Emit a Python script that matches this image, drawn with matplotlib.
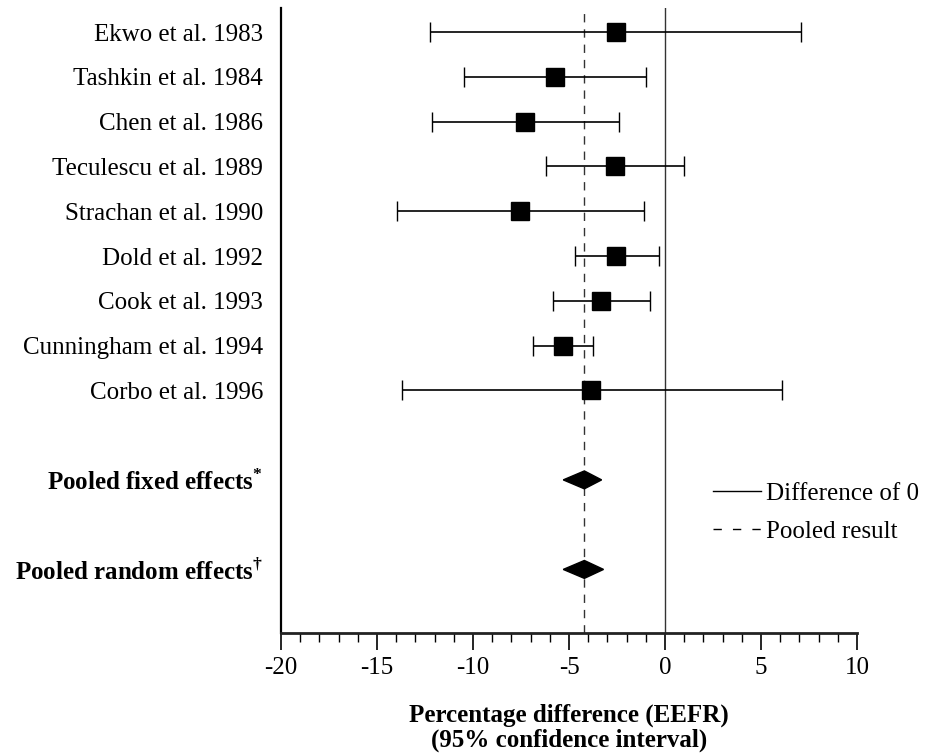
import numpy as np
import matplotlib.pyplot as plt
from matplotlib.lines import Line2D
from matplotlib.patches import Polygon

plt.rcParams['font.family'] = ['Liberation Serif', 'DejaVu Serif']
plt.rcParams['mathtext.fontset'] = 'custom'
plt.rcParams['mathtext.rm'] = 'Liberation Serif'
plt.rcParams['mathtext.bf'] = 'Liberation Serif:bold'
plt.rcParams['axes.unicode_minus'] = False

# Dados
studies = ["Ekwo et al. 1983", "Tashkin et al. 1984", "Chen et al. 1986",
           "Teculescu et al. 1989", "Strachan et al. 1990", "Dold et al. 1992",
           "Cook et al. 1993", "Cunningham et al. 1994", "Corbo et al. 1996"]
estimate = [-2.57, -5.73, -7.27, -2.63, -7.54, -2.53, -3.33, -5.33, -3.83]
lower = [-12.26, -10.46, -12.16, -6.21, -13.97, -4.71, -5.83, -6.85, -13.71]
upper = [7.09, -0.98, -2.38, 0.98, -1.08, -0.32, -0.78, -3.77, 6.09]

pooled_labels = [r"Pooled fixed effects$^{\mathbf{*}}$",
                 r"Pooled random effects$^{\mathbf{\dagger}}$"]
pooled_est = [-4.2, -4.2]
pooled_lo = [-5.3, -5.3]
pooled_hi = [-3.3, -3.2]

pooled_result = -4.2

fig = plt.figure(figsize=(9.25, 7.55), dpi=100)
ax = fig.add_axes([281/925, 1 - 633/755, (857-281)/925, (633-8)/755])

y_studies = np.arange(len(studies))
y_pooled = np.array([10, 12])

# linhas de referência
ax.axvline(0, color='#333333', lw=1.0, zorder=1)
ax.axvline(pooled_result, color='#333333', lw=1.0, ls=(0, (6, 5)), zorder=1)

est = np.array(estimate)
xerr = [est - np.array(lower), np.array(upper) - est]
ax.errorbar(est, y_studies, xerr=xerr, fmt='s', color='black', ms=12.5,
            elinewidth=1.2, capsize=7, capthick=1.0, zorder=3)

h = 0.2
for yp, e, lo, hi in zip(y_pooled, pooled_est, pooled_lo, pooled_hi):
    diamond = Polygon([(lo, yp), (e, yp - h), (hi, yp), (e, yp + h)],
                      closed=True, facecolor='black', edgecolor='black', zorder=3)
    ax.add_patch(diamond)

ax.set_xlim(-20, 10)
ax.set_ylim(13.42, -0.54)

ax.set_yticks(list(y_studies) + list(y_pooled))
ax.set_yticklabels(studies + pooled_labels, fontsize=18)
for lbl in ax.get_yticklabels()[-2:]:
    lbl.set_fontweight('bold')
ax.tick_params(axis='y', length=0, pad=13)

ax.set_xticks(np.arange(-20, 11, 5))
ax.set_xticks(np.arange(-20, 11, 1), minor=True)
ax.tick_params(axis='x', which='major', length=12, width=1.2, labelsize=18, pad=5)
ax.tick_params(axis='x', which='minor', length=6.5, width=1.0)

for s in ['top', 'right']:
    ax.spines[s].set_visible(False)
ax.spines['left'].set_linewidth(1.6)
ax.spines['bottom'].set_linewidth(2.0)
ax.spines['bottom'].set_color('#222222')

ax.set_xlabel("Percentage difference (EEFR)\n(95% confidence interval)",
              fontsize=18, fontweight='bold', labelpad=18, linespacing=1.1)

handles = [Line2D([], [], color='black', lw=1.0),
           Line2D([], [], color='black', lw=1.0, ls=(0, (6, 8)))]
ax.legend(handles, ["Difference of 0", "Pooled result"], loc='upper left',
          bbox_to_anchor=(713/925, 1 - 482/755), bbox_transform=fig.transFigure,
          frameon=False, fontsize=18, handlelength=1.9, handletextpad=0.2,
          borderpad=0, borderaxespad=0, labelspacing=0.62)

plt.savefig("out.png", dpi=100)
